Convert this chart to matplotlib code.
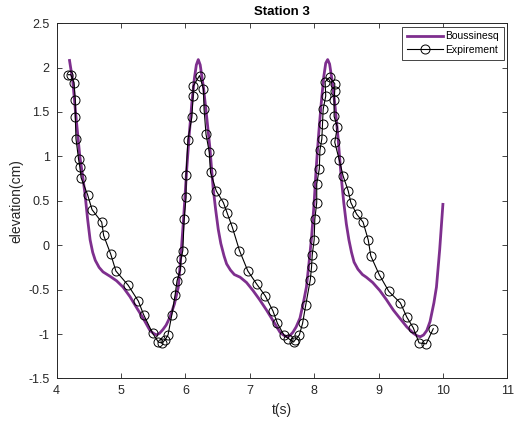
import numpy as np
import matplotlib
matplotlib.use('Agg')
import matplotlib.pyplot as plt

# Boussinesq model
t_model = [4.20, 4.25, 4.30, 4.36, 4.40, 4.44, 4.48, 4.52, 4.56, 4.60, 4.66, 4.72,
           4.83, 4.93, 5.03, 5.14, 5.24, 5.35, 5.45, 5.50, 5.55, 5.60, 5.65, 5.70,
           5.76, 5.83, 5.89, 5.93, 5.97, 6.02, 6.06, 6.10, 6.14, 6.17, 6.20, 6.23,
           6.28, 6.33, 6.38, 6.43, 6.47, 6.51, 6.55, 6.60, 6.64, 6.70, 6.76, 6.85,
           6.95, 7.05, 7.15, 7.26, 7.37, 7.47, 7.52, 7.57, 7.62, 7.67, 7.72, 7.78,
           7.84, 7.88, 7.92, 7.96, 8.00, 8.03, 8.07, 8.11, 8.15, 8.18, 8.21, 8.24,
           8.28, 8.32, 8.37, 8.42, 8.46, 8.50, 8.54, 8.58, 8.62, 8.68, 8.75, 8.81,
           8.91, 9.02, 9.12, 9.23, 9.34, 9.44, 9.54, 9.60, 9.65, 9.70, 9.75, 9.80,
           9.86, 9.90, 9.95, 10.0]
v_model = [2.08, 1.85, 1.45, 1.00, 0.80, 0.58, 0.30, 0.06, -0.08, -0.17, -0.25, -0.30,
           -0.35, -0.40, -0.47, -0.58, -0.70, -0.83, -0.96, -0.99, -1.01, -0.99, -0.95, -0.90,
           -0.81, -0.66, -0.47, -0.12, 0.28, 0.85, 1.25, 1.60, 1.88, 2.03, 2.09, 2.03,
           1.78, 1.45, 1.10, 0.65, 0.40, 0.18, 0.02, -0.12, -0.21, -0.28, -0.33, -0.36,
           -0.42, -0.51, -0.61, -0.73, -0.86, -0.98, -1.01, -1.03, -1.02, -0.98, -0.92, -0.82,
           -0.62, -0.47, -0.20, 0.09, 0.48, 0.85, 1.25, 1.60, 1.90, 2.05, 2.09, 2.04,
           1.85, 1.60, 1.22, 0.77, 0.48, 0.24, 0.06, -0.08, -0.19, -0.27, -0.33, -0.36,
           -0.42, -0.51, -0.61, -0.73, -0.83, -0.92, -0.99, -1.02, -1.03, -1.01, -0.96, -0.86,
           -0.65, -0.47, -0.05, 0.46]

# experiment
t_exp = [4.18, 4.22, 4.27, 4.29, 4.29, 4.30, 4.34, 4.36, 4.38, 4.48, 4.55, 4.70,
         4.73, 4.84, 4.92, 5.11, 5.27, 5.35, 5.49, 5.58, 5.63, 5.68, 5.73, 5.79,
         5.84, 5.87, 5.92, 5.93, 5.96, 5.98, 6.01, 6.01, 6.04, 6.10, 6.12, 6.12,
         6.22, 6.28, 6.29, 6.32, 6.37, 6.39, 6.48, 6.59, 6.65, 6.73, 6.84, 6.97,
         7.11, 7.24, 7.36, 7.43, 7.53, 7.60, 7.68, 7.70, 7.77, 7.82, 7.87, 7.94,
         7.96, 7.97, 8.00, 8.01, 8.04, 8.04, 8.08, 8.09, 8.12, 8.13, 8.14, 8.18,
         8.17, 8.24, 8.32, 8.32, 8.31, 8.31, 8.36, 8.32, 8.39, 8.45, 8.53, 8.57,
         8.66, 8.76, 8.84, 8.88, 9.01, 9.16, 9.34, 9.44, 9.54, 9.63, 9.74, 9.85]
v_exp = [1.92, 1.92, 1.83, 1.63, 1.44, 1.20, 0.97, 0.88, 0.76, 0.57, 0.40, 0.26,
         0.11, -0.10, -0.29, -0.45, -0.63, -0.78, -0.99, -1.09, -1.10, -1.07, -1.01, -0.78,
         -0.56, -0.40, -0.28, -0.16, -0.06, 0.29, 0.54, 0.79, 1.19, 1.44, 1.68, 1.79,
         1.91, 1.76, 1.53, 1.25, 1.05, 0.82, 0.61, 0.48, 0.36, 0.20, -0.06, -0.29,
         -0.44, -0.57, -0.74, -0.88, -1.01, -1.05, -1.09, -1.07, -1.01, -0.88, -0.67, -0.39,
         -0.24, -0.11, 0.06, 0.29, 0.48, 0.69, 0.86, 1.07, 1.20, 1.37, 1.53, 1.68,
         1.84, 1.89, 1.82, 1.74, 1.64, 1.45, 1.33, 1.16, 0.96, 0.78, 0.61, 0.48,
         0.35, 0.26, 0.06, -0.12, -0.33, -0.52, -0.65, -0.81, -0.93, -1.10, -1.11, -0.94]

xticks = [4, 5, 6, 7, 8, 9, 10, 11]
yticks = [-1.5, -1, -0.5, 0, 0.5, 1, 1.5, 2, 2.5]

plt.rcParams['font.family'] = ['Liberation Sans', 'DejaVu Sans']
grey = '#262626'

fig = plt.figure(figsize=(5.15, 4.21), dpi=100)
ax = fig.add_axes([0.110, 0.101, 0.875, 0.844])

ax.plot(t_model, v_model, color='#7E2F8E', lw=2, label='Boussinesq')
ax.plot(t_exp, v_exp, color='black', lw=0.8, marker='o', ms=6.5,
        mfc='none', mec='black', mew=0.7, label='Expirement')

ax.set_xlim(4, 11)
ax.set_ylim(-1.5, 2.5)
ax.set_xticks(xticks)
ax.set_xticklabels([str(x) for x in xticks])
ax.set_yticks(yticks)
ax.set_yticklabels(['-1.5', '-1', '-0.5', '0', '0.5', '1', '1.5', '2', '2.5'])
ax.tick_params(direction='in', top=True, right=True, length=3.5, width=0.6,
               labelsize=9, colors=grey, labelcolor=grey, pad=5)
for s in ax.spines.values():
    s.set_color(grey)
    s.set_linewidth(0.7)

ax.set_xlabel('t(s)', fontsize=10, color=grey, labelpad=4)
ax.set_ylabel('elevation(cm)', fontsize=10, color=grey, labelpad=4)
ax.set_title('Station 3', fontsize=9.5, fontweight='bold', pad=6)

leg = ax.legend(loc='upper right', fontsize=7.5, fancybox=False, framealpha=1,
                edgecolor=grey, borderpad=0.45, handlelength=3.4, handletextpad=0.25,
                labelspacing=0.35, borderaxespad=0.35)
leg.get_frame().set_linewidth(0.6)

fig.savefig('out.png', dpi=100)
